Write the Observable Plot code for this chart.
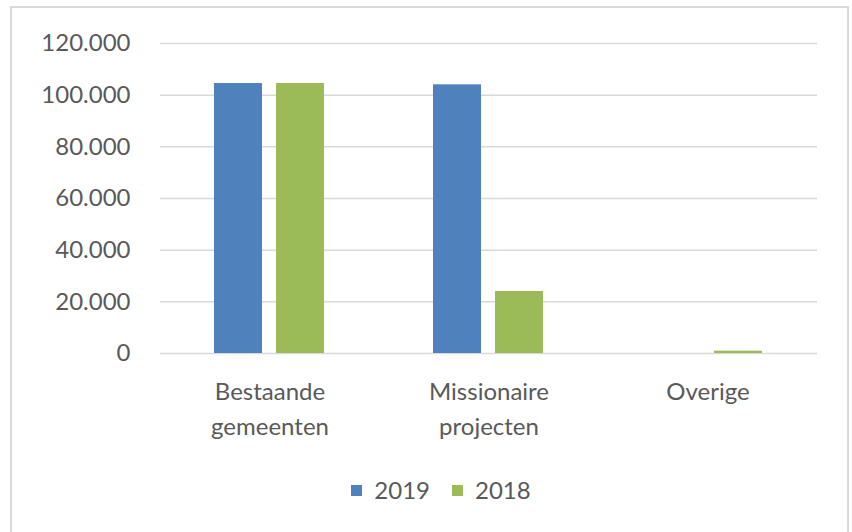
<!DOCTYPE html>
<html>
<head>
<meta charset="utf-8">
<script src="https://cdn.jsdelivr.net/npm/d3@7"></script>
<script src="https://cdn.jsdelivr.net/npm/@observablehq/plot@0.6"></script>
<style>
  html, body { margin: 0; padding: 0; background: #fff; width: 852px; height: 532px; overflow: hidden; }
  #frame { position: absolute; left: 10px; top: 6px; width: 839px; height: 540px; border: 2px solid #d9d9d9; box-sizing: border-box; }
  #chart { position: absolute; left: 0; top: 0; }
  #legend { position: absolute; left: 0; top: 475px; width: 882px; display: flex; justify-content: center; font-family: Lato, "Open Sans", sans-serif; font-size: 24px; color: #595959; line-height: 30px; }
  .item { display: flex; align-items: center; margin: 0 11px; }
  .sw { width: 11px; height: 11px; margin-right: 12px; }
</style>
</head>
<body>
<div id="frame"></div>
<div id="chart"></div>
<div id="legend"></div>
<script>
const categories = ["Bestaande gemeenten", "Missionaire projecten", "Overige"];
const categoryLabels = ["Bestaande\ngemeenten", "Missionaire\nprojecten", "Overige"];
const series = ["2019", "2018"];
const values2019 = [104500, 104000, 0];
const values2018 = [104500, 24000, 900];
const colors = ["#4f81bd", "#9bbb59"];
const yTicks = [0, 20000, 40000, 60000, 80000, 100000, 120000];

const data = [];
categories.forEach((c, i) => {
  data.push({cat: c, year: "2019", value: values2019[i]});
  data.push({cat: c, year: "2018", value: values2018[i]});
});

const nl = d3.formatLocale({decimal: ",", thousands: ".", grouping: [3], currency: ["€", ""]});
const fmt = nl.format(",");

const chart = Plot.plot({
  width: 852,
  height: 460,
  marginTop: 43,
  marginBottom: 107,
  marginLeft: 160,
  marginRight: 35,
  style: {fontFamily: "Lato, 'Open Sans', sans-serif", color: "#595959", background: "transparent"},
  fx: {domain: categories, padding: 0},
  x: {domain: series, paddingInner: 0.222, paddingOuter: 0.85, axis: null},
  y: {domain: [0, 120000], ticks: yTicks, axis: null},
  color: {domain: series, range: colors},
  marks: [
    Plot.gridY(yTicks, {stroke: "#d9d9d9", strokeOpacity: 1, strokeWidth: 1.5}),
    Plot.barY(data, {fx: "cat", x: "year", y: "value", fill: "year"}),
    Plot.axisY(yTicks, {tickSize: 0, tickPadding: 0, dx: -30, fontSize: 24, fill: "#595959", tickFormat: fmt, label: null, facetAnchor: "left"}),
    Plot.axisFx({anchor: "bottom", tickSize: 0, tickPadding: 22, fontSize: 24, fill: "#595959", lineHeight: 1.45, label: null,
      tickFormat: d => categoryLabels[categories.indexOf(d)]}),
  ]
});
document.getElementById("chart").appendChild(chart);

const legend = document.getElementById("legend");
series.forEach((s, i) => {
  const it = document.createElement("div");
  it.className = "item";
  const sw = document.createElement("div");
  sw.className = "sw";
  sw.style.background = colors[i];
  const t = document.createElement("span");
  t.textContent = s;
  it.appendChild(sw); it.appendChild(t);
  legend.appendChild(it);
});
</script>
</body>
</html>
